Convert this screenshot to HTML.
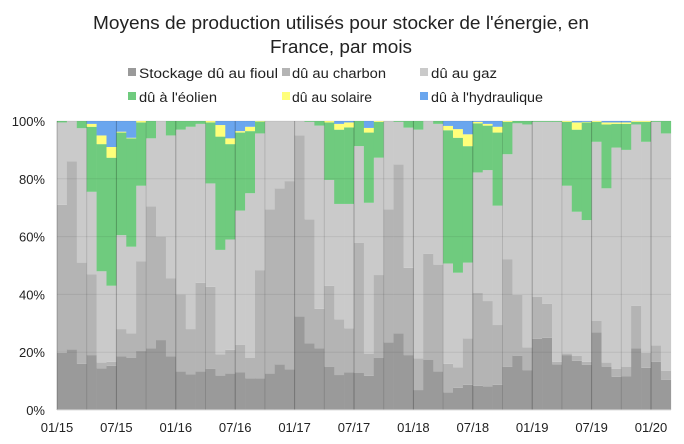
<!DOCTYPE html>
<html><head><meta charset="utf-8"><style>
body{margin:0;background:#fff}
svg{display:block;font-family:"Liberation Sans",sans-serif}
</style></head><body>
<svg id="s" width="684" height="444" viewBox="0 0 684 444" xmlns="http://www.w3.org/2000/svg">
<rect width="684" height="444" fill="#fff"/>
<text x="341" y="29" font-size="18" text-anchor="middle" fill="#222" textLength="496" lengthAdjust="spacingAndGlyphs">Moyens de production utilisés pour stocker de l'énergie, en</text>
<text x="341" y="53" font-size="18" text-anchor="middle" fill="#222" textLength="142" lengthAdjust="spacingAndGlyphs">France, par mois</text>
<g font-size="13.5" fill="#222">
<rect x="128" y="68" width="8" height="8" fill="#9a9a9a"/><text x="139" y="78" textLength="139" lengthAdjust="spacingAndGlyphs">Stockage dû au fioul</text>
<rect x="282" y="68" width="8" height="8" fill="#b4b4b4"/><text x="292" y="78" textLength="94" lengthAdjust="spacingAndGlyphs">dû au charbon</text>
<rect x="420" y="68" width="8" height="8" fill="#cacaca"/><text x="431" y="78" textLength="66" lengthAdjust="spacingAndGlyphs">dû au gaz</text>
<rect x="128" y="92" width="8" height="8" fill="#6fcb7e"/><text x="139" y="102" textLength="78" lengthAdjust="spacingAndGlyphs">dû à l'éolien</text>
<rect x="282" y="92" width="8" height="8" fill="#ffff7a"/><text x="292" y="102" textLength="80" lengthAdjust="spacingAndGlyphs">dû au solaire</text>
<rect x="420" y="92" width="8" height="8" fill="#6aa6ee"/><text x="431" y="102" textLength="112" lengthAdjust="spacingAndGlyphs">dû à l'hydraulique</text>
</g>
<g id="bars"></g>
<g id="ax" font-size="13" fill="#222"></g>
</svg>
<script>
var D=[[19.8,71,99.5,100,100],[21,86,100,100,100],[16,51,97.5,100,100],[19,47,75.5,98,99],[14.4,16.4,48,92,95],[15.3,16.7,43,87.3,91],[18.5,28,60.5,96,96.3],[18,26.5,56.5,94,94.2],[20.4,51.5,77.6,99.5,100],[21.3,70.4,94,100,100],[24.2,60,100,100,100],[18.5,45.5,95,100,100],[13.3,40,97,100,100],[12.3,28,98,100,100],[13.3,44,99,100,100],[14.2,42.6,78.4,99.5,100],[11.9,19.3,55.4,94.6,98.6],[12.6,20.8,59,92,94],[13.1,22.5,69,96,96.5],[11,18,75,96.5,98],[11,48.4,95.7,99.8,100],[12.6,69.4,100,100,100],[15.8,76.7,100,100,100],[14,79.2,100,100,100],[32.4,95,100,100,100],[23,66,99.7,100,100],[21.3,35,98.4,100,100],[15,43,79.6,99.5,100],[12.1,31.4,71.3,97,99],[13,28.3,71.3,97.8,99.5],[12.8,57.9,91.3,100,100],[11.8,19.5,71.7,96,97.6],[18,46.7,87.3,99.7,100],[23.4,69.4,100,100,100],[26.5,85,99.7,100,100],[19,49.2,97.7,100,100],[6.9,17.9,97,100,100],[17.3,54,100,100,100],[13.3,50.3,99,100,100],[6.1,16,50.7,96.8,98.3],[7.7,14.8,47.5,94.2,97.2],[8.7,24.8,51,91.3,95.4],[8.4,40.6,82.2,99.2,99.7],[8.2,37.7,83,98.4,99],[8.7,29.4,70.7,96,98],[14.9,52.2,88.5,99.7,100],[18.8,39.8,99.2,100,100],[13.8,21.7,98.8,100,100],[24.6,39.2,99.7,100,100],[25,36.7,99.7,100,100],[15.8,16.7,99.7,100,100],[19,19.6,77.6,99.7,100],[17,18.8,68.6,97,99.5],[15.6,16.7,65.7,99.5,99.7],[26.8,30.8,92.8,99.7,100],[15,16.4,76.7,98.8,99.5],[11.5,14.2,90.8,99,99.5],[11.6,15,90,99,99.5],[21.3,36,98.8,99.7,100],[14.6,19.8,92.8,99.7,100],[16.7,22.3,99.7,100,100],[10.4,13.6,95.7,100,100]];
var C=["#9a9a9a","#b4b4b4","#cacaca","#6fcb7e","#ffff7a","#6aa6ee"];
var NS="http://www.w3.org/2000/svg",g=document.getElementById('bars'),ax=document.getElementById('ax');
function Y(p){return 410-p*2.89}
function el(p,t,a){var e=document.createElementNS(NS,t);for(var k in a)e.setAttribute(k,a[k]);p.appendChild(e);return e}
var w=9.9,x0=57;
D.forEach(function(d,i){var prev=0,v=d.concat([100]);for(var j=0;j<6;j++){var t=v[j];if(t>prev){el(g,'rect',{x:x0+i*w,y:Y(t),width:w+0.3,height:Y(prev)-Y(t),fill:C[j]});}prev=Math.max(prev,t);}});
for(var p=0;p<=100;p+=20){el(g,'line',{x1:57,x2:671,y1:Y(p),y2:Y(p),stroke:"#000","stroke-opacity":0.07});var t=el(ax,'text',{x:45,y:Y(p)+5,"text-anchor":"end"});t.textContent=p+"%";}
for(var i=0;i<=62;i+=3){el(g,'line',{x1:x0+i*w,x2:x0+i*w,y1:121,y2:410,stroke:"#000","stroke-opacity":(i%6==0?0.25:0.12)});}
el(g,'line',{x1:57,x2:671,y1:410,y2:410,stroke:"#ddd"});
var L=["01/15","07/15","01/16","07/16","01/17","07/17","01/18","07/18","01/19","07/19","01/20"];
L.forEach(function(s,k){var t=el(ax,'text',{x:x0+k*6*w,y:432,"text-anchor":"middle"});t.textContent=s;});
</script>
</body></html>
